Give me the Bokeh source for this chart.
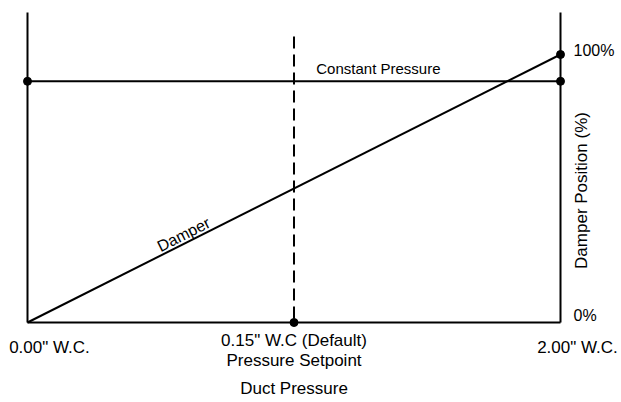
import math
from bokeh.plotting import figure
from bokeh.core.properties import value
from bokeh.embed import file_html
from bokeh.resources import INLINE

# ---- data (schematic positions) ----
pressure_pos = [0, 1, 2]                     # schematic x positions
pressure_labels = ['0.00" W.C.', '0.15" W.C (Default)', '2.00" W.C.']
setpoint_sub = "Pressure Setpoint"
x_title = "Duct Pressure"
y_title = "Damper Position (%)"
damper_x = [0, 2]
damper_y = [0, 100]
constant_x = [0, 2]
constant_y = [90, 90]
y_ticks = [0, 100]
y_tick_labels = ["0%", "100%"]
axis_top = 115.7
setpoint_top = 106.7

# ---- layout ----
W, H = 621, 402
px_x = 266.5   # pixels per x unit
px_y = 2.68    # pixels per y unit
x0 = -27 / px_x
x1 = x0 + W / px_x
y1 = 322 / px_y
y0 = y1 - H / px_y

FONT = value("Liberation Sans")

p = figure(width=W, height=H, x_range=(x0, x1), y_range=(y0, y1),
           output_backend="svg", toolbar_location=None, min_border=0,
           tools="")
p.xaxis.visible = False
p.yaxis.visible = False
p.grid.visible = False
p.outline_line_color = None
p.background_fill_color = "white"
p.border_fill_color = "white"

lw = 2
# frame lines
p.line([pressure_pos[0], pressure_pos[0]], [0, axis_top], line_color="black", line_width=lw)
p.line([pressure_pos[-1], pressure_pos[-1]], [0, axis_top], line_color="black", line_width=lw)
p.line([pressure_pos[0], pressure_pos[-1]], [0, 0], line_color="black", line_width=lw)
# constant pressure
p.line(constant_x, constant_y, line_color="black", line_width=lw)
# damper
p.line(damper_x, damper_y, line_color="black", line_width=lw)
# setpoint dashed (drawn from the top down)
p.line([pressure_pos[1], pressure_pos[1]], [setpoint_top, 0], line_color="black",
       line_width=lw, line_dash="12 6")
# dots
p.scatter(constant_x + [damper_x[-1], pressure_pos[1]],
          constant_y + [damper_y[-1], 0], size=8, color="black")

# x labels
p.text(x=[pressure_pos[0]], y=[0], text=[pressure_labels[0]], x_offset=22, y_offset=25,
       text_font=FONT, text_font_size="17px", text_align="center", text_baseline="middle")
p.text(x=[pressure_pos[2]], y=[0], text=[pressure_labels[2]], x_offset=17, y_offset=25,
       text_font=FONT, text_font_size="17px", text_align="center", text_baseline="middle")
p.text(x=[pressure_pos[1]], y=[0], text=[pressure_labels[1]], x_offset=0, y_offset=18,
       text_font=FONT, text_font_size="17px", text_align="center", text_baseline="middle")
p.text(x=[pressure_pos[1]], y=[0], text=[setpoint_sub], x_offset=0, y_offset=38,
       text_font=FONT, text_font_size="17px", text_align="center", text_baseline="middle")
p.text(x=[pressure_pos[1]], y=[0], text=[x_title], x_offset=0, y_offset=66,
       text_font=FONT, text_font_size="17px", text_align="center", text_baseline="middle")

# y labels
p.text(x=[pressure_pos[2]] * 2, y=y_ticks, text=y_tick_labels, x_offset=13, y_offset=[-7, -4],
       text_font=FONT, text_font_size="16px", text_align="left", text_baseline="middle")
p.text(x=[pressure_pos[2]], y=[50], text=[y_title], x_offset=21, y_offset=2,
       angle=math.pi / 2, text_font=FONT, text_font_size="17px",
       text_align="center", text_baseline="middle")

# series labels
p.text(x=[constant_x[-1]], y=[constant_y[-1]], text=["Constant Pressure"], x_offset=-120,
       y_offset=-4, text_font=FONT, text_font_size="15px", text_align="right",
       text_baseline="bottom")
ang = math.atan2((damper_y[1] - damper_y[0]) * px_y, (damper_x[1] - damper_x[0]) * px_x)
p.text(x=[0.6], y=[30], text=["Damper"], x_offset=0, y_offset=0, angle=ang,
       text_font=FONT, text_font_size="16px", text_align="center", text_baseline="bottom")

open("out.html", "w").write(file_html(p, INLINE))
